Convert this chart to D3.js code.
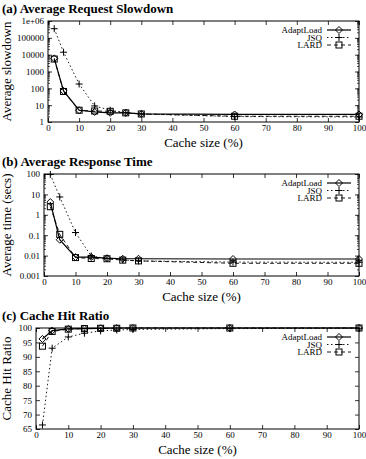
<!DOCTYPE html>
<html>
<head>
<meta charset="utf-8">
<script src="https://cdn.jsdelivr.net/npm/d3@7"></script>
<style>
body { margin: 0; background: #fff; }
svg text { font-family: "Liberation Serif", "DejaVu Serif", serif; fill: #000; }
.title { font-weight: bold; font-size: 13px; }
.tick text { font-size: 9px; }
.axlabel { font-size: 13px; }
.legend text { font-size: 9px; }
</style>
</head>
<body>
<div id="chart"></div>
<script>
// cache size (%) on x for all three panels
var cacheSize = [2, 5, 10, 15, 20, 25, 30, 60, 100];
var xTicks = [0, 10, 20, 30, 40, 50, 60, 70, 80, 90, 100];

// (a) average request slowdown
var slowAdapt = [6000, 70, 5, 4, 3.5, 3.5, 3, 2.8, 2.8];
var slowJSQ   = [350000, 14000, 180, 9, 5, 3.6, 3, 2.1, 2];
var slowLARD  = [5500, 65, 5, 4.5, 4.3, 3.5, 3, 2.2, 2.2];

// (b) average response time (secs)
var timeAdapt = [4.2, 0.06, 0.0085, 0.0085, 0.0075, 0.007, 0.007, 0.0068, 0.0068];
var timeJSQ   = [95, 7.5, 0.135, 0.0095, 0.0072, 0.0062, 0.0055, 0.0048, 0.0047];
var timeLARD  = [2.5, 0.11, 0.008, 0.0072, 0.007, 0.006, 0.0055, 0.0042, 0.0042];

// (c) cache hit ratio
var hitAdapt = [96.2, 99.1, 99.7, 99.8, 99.9, 100, 100, 100, 100];
var hitJSQ   = [66.4, 93, 96.9, 98.2, 99, 99.3, 99.5, 99.8, 99.9];
var hitLARD  = [93.7, 98.8, 99.6, 99.8, 99.9, 99.9, 100, 100, 100];

var seriesNames = ["AdaptLoad", "JSQ", "LARD"];
var dashes = [null, "1.5,2.5", "4,3"];
var markers = ["diamond", "plus", "square"];

var svg = d3.select("#chart").append("svg")
	.attr("width", 366)
	.attr("height", 459);

function drawMarker(g, type, x, y) {
	if (type == "diamond") {
		g.append("path")
			.attr("d", "M" + x + "," + (y - 3.5) + "L" + (x + 3.5) + "," + y + "L" + x + "," + (y + 3.5) + "L" + (x - 3.5) + "," + y + "Z")
			.attr("fill", "none").attr("stroke", "#000").attr("stroke-width", 1);
	} else if (type == "plus") {
		g.append("path")
			.attr("d", "M" + (x - 3.5) + "," + y + "H" + (x + 3.5) + "M" + x + "," + (y - 3.5) + "V" + (y + 3.5))
			.attr("stroke", "#000").attr("stroke-width", 1);
	} else {
		g.append("rect")
			.attr("x", x - 3).attr("y", y - 3).attr("width", 6).attr("height", 6)
			.attr("fill", "none").attr("stroke", "#000").attr("stroke-width", 1);
	}
}

function panel(opt) {
	var g = svg.append("g");
	var x = d3.scaleLinear().domain([0, 100]).range([opt.left, 359]);
	var y = opt.log
		? d3.scaleLog().domain(opt.domain).range([opt.bottom, opt.top])
		: d3.scaleLinear().domain(opt.domain).range([opt.bottom, opt.top]);

	g.append("text").attr("class", "title").attr("x", 2).attr("y", opt.top - 8).text(opt.title);

	// ticks in, mirrored on all sides
	var xb = g.append("g").attr("transform", "translate(0," + opt.bottom + ")")
		.call(d3.axisBottom(x).tickValues(xTicks).tickSizeInner(-4).tickSizeOuter(0).tickPadding(3));
	var xt = g.append("g").attr("transform", "translate(0," + opt.top + ")")
		.call(d3.axisTop(x).tickValues(xTicks).tickSizeInner(-4).tickSizeOuter(0).tickFormat(""));
	var yl = g.append("g").attr("transform", "translate(" + opt.left + ",0)")
		.call(d3.axisLeft(y).tickValues(opt.ticks).tickSizeInner(-4).tickSizeOuter(0).tickPadding(4).tickFormat(opt.fmt));
	var yr = g.append("g").attr("transform", "translate(359,0)")
		.call(d3.axisRight(y).tickValues(opt.ticks).tickSizeInner(-4).tickSizeOuter(0).tickFormat(""));
	[xb, xt, yl, yr].forEach(function(a) {
		a.attr("font-family", null).attr("font-size", null);
		a.select(".domain").remove();
		a.selectAll(".tick line").attr("stroke-width", 0.8);
	});

	if (opt.log) {
		var minor = [];
		var lo = Math.round(Math.log10(opt.domain[0])), hi = Math.round(Math.log10(opt.domain[1]));
		for (var e = lo; e < hi; e++) {
			for (var m = 2; m < 10; m++) minor.push(m * Math.pow(10, e));
		}
		[[opt.left, 2], [359, -2]].forEach(function(s) {
			g.selectAll(null).data(minor).enter().append("line")
				.attr("x1", s[0]).attr("x2", s[0] + s[1])
				.attr("y1", function(d) { return y(d); })
				.attr("y2", function(d) { return y(d); })
				.attr("stroke", "#000").attr("stroke-width", 0.7);
		});
	}

	g.append("rect")
		.attr("x", opt.left).attr("y", opt.top)
		.attr("width", 359 - opt.left).attr("height", opt.bottom - opt.top)
		.attr("fill", "none").attr("stroke", "#000").attr("stroke-width", 1);

	g.append("text").attr("class", "axlabel")
		.attr("x", (opt.left + 359) / 2).attr("y", opt.bottom + 25)
		.attr("text-anchor", "middle").text("Cache size (%)");
	g.append("text").attr("class", "axlabel")
		.attr("transform", "translate(11," + ((opt.top + opt.bottom) / 2) + ") rotate(-90)")
		.attr("text-anchor", "middle").text(opt.ylabel);

	var line = d3.line()
		.x(function(d, i) { return x(cacheSize[i]); })
		.y(function(d) { return y(d); });

	opt.series.forEach(function(vals, k) {
		g.append("path")
			.attr("d", line(vals))
			.attr("fill", "none").attr("stroke", "#000")
			.attr("stroke-width", k == 0 ? 1.2 : 0.9)
			.attr("stroke-dasharray", dashes[k]);
		vals.forEach(function(v, i) {
			drawMarker(g, markers[k], x(cacheSize[i]), y(v));
		});
	});

	var lg = g.append("g").attr("class", "legend");
	seriesNames.forEach(function(name, k) {
		var ly = opt.top + 9 + k * 7.5;
		lg.append("text").attr("x", 322).attr("y", ly + 3).attr("text-anchor", "end").text(name);
		lg.append("line").attr("x1", 327).attr("x2", 351).attr("y1", ly).attr("y2", ly)
			.attr("stroke", "#000").attr("stroke-width", k == 0 ? 1.2 : 0.9)
			.attr("stroke-dasharray", dashes[k]);
		drawMarker(lg, markers[k], 339, ly);
	});
}

var logFmt = function(d) { return d == 1e6 ? "1e+06" : String(d); };

panel({
	title: "(a) Average Request Slowdown", ylabel: "Average slowdown",
	left: 48, top: 21, bottom: 122, log: true, domain: [1, 1e6],
	ticks: [1, 10, 100, 1000, 10000, 100000, 1e6], fmt: logFmt,
	series: [slowAdapt, slowJSQ, slowLARD]
});

panel({
	title: "(b) Average Response Time", ylabel: "Average time (secs)",
	left: 44, top: 174, bottom: 276, log: true, domain: [0.001, 100],
	ticks: [0.001, 0.01, 0.1, 1, 10, 100], fmt: function(d) { return String(d); },
	series: [timeAdapt, timeJSQ, timeLARD]
});

panel({
	title: "(c) Cache Hit Ratio", ylabel: "Cache Hit Ratio",
	left: 36, top: 328, bottom: 429, log: false, domain: [65, 100],
	ticks: [65, 70, 75, 80, 85, 90, 95, 100], fmt: function(d) { return String(d); },
	series: [hitAdapt, hitJSQ, hitLARD]
});
</script>
</body>
</html>
